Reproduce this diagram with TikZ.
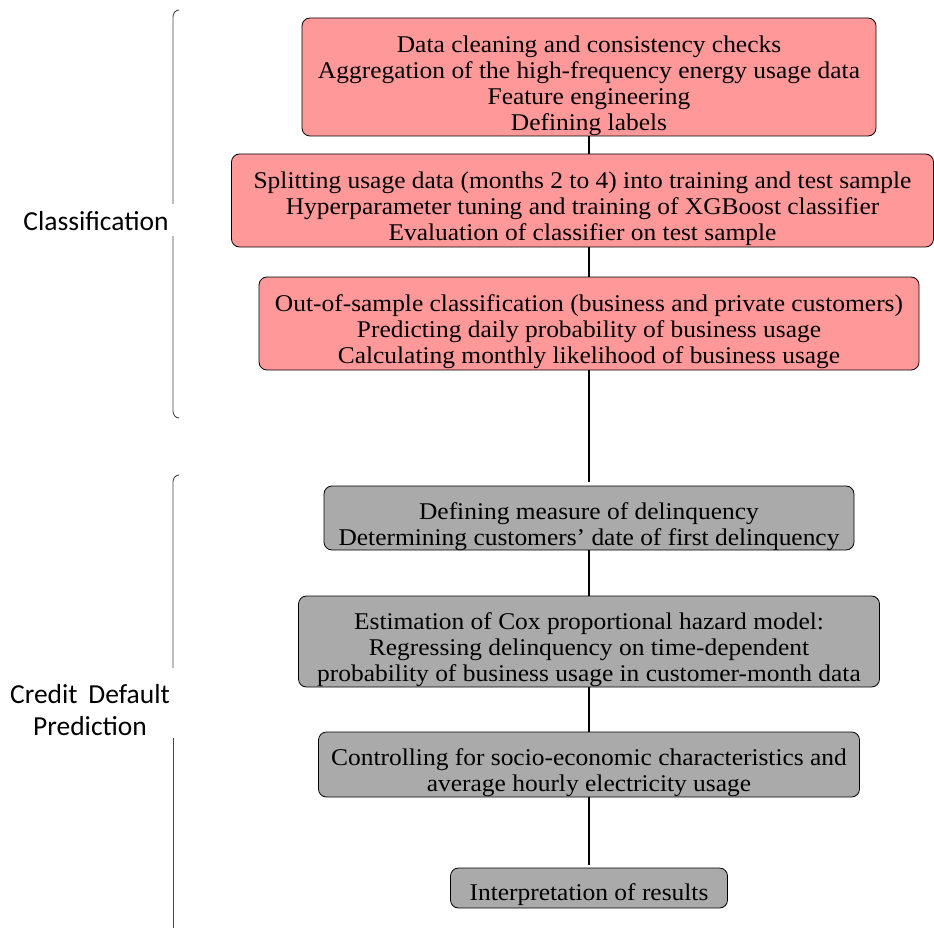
\documentclass[tikz,border=0pt]{standalone}
\usepackage{fontspec}
\setmainfont[FakeStretch=1.06]{Liberation Serif}
\newfontfamily\lblfont{Carlito}
\definecolor{pinkfill}{RGB}{255,153,153}
\definecolor{grayfill}{RGB}{170,170,170}
\definecolor{brk}{RGB}{70,70,70}
\begin{document}
\begin{tikzpicture}[x=1pt,y=-1pt,
  box/.style={draw=black,line width=0.8pt,rounded corners=8pt,inner sep=0pt},
  pinkbox/.style={box,fill=pinkfill},
  graybox/.style={box,fill=grayfill},
  txt/.style={align=center,font=\fontsize{24}{26}\selectfont,inner sep=0pt},
  lbl/.style={font=\lblfont\fontsize{27.5}{32}\selectfont,align=center,inner sep=0pt},
  conn/.style={line width=1.4pt,black},
  bracket/.style={line width=0.9pt,brk}]
\useasboundingbox (0,0) rectangle (934,928);
\node[pinkbox,minimum width=574pt,minimum height=118pt] (b1) at (589,77) {};
\node[pinkbox,minimum width=702pt,minimum height=93pt] (b2) at (582.5,200.5) {};
\node[pinkbox,minimum width=660pt,minimum height=93pt] (b3) at (589,323.5) {};
\node[graybox,minimum width=530pt,minimum height=64pt] (b4) at (589,518) {};
\node[graybox,minimum width=581pt,minimum height=91pt] (b5) at (589,641.5) {};
\node[graybox,minimum width=541pt,minimum height=65pt] (b6) at (589,764.5) {};
\node[graybox,minimum width=277pt,minimum height=40pt] (b7) at (589,888) {};
\node[txt] (b1t) at ([yshift=-8.5pt]b1.center)
 {Data cleaning and consistency checks\\Aggregation of the high-frequency energy usage data\\Feature engineering\\Defining labels};
\node[txt] (b2t) at ([yshift=-8.5pt]b2.center)
 {Splitting usage data (months 2 to 4) into training and test sample\\Hyperparameter tuning and training of XGBoost classifier\\Evaluation of classifier on test sample};
\node[txt] (b3t) at ([yshift=-8.5pt]b3.center)
 {Out-of-sample classification (business and private customers)\\Predicting daily probability of business usage\\Calculating monthly likelihood of business usage};
\node[txt] (b4t) at ([yshift=-8.5pt]b4.center)
 {Defining measure of delinquency\\Determining customers' date of first delinquency};
\node[txt] (b5t) at ([yshift=-8.5pt]b5.center)
 {Estimation of Cox proportional hazard model:\\Regressing delinquency on time-dependent\\probability of business usage in customer-month data};
\node[txt] (b6t) at ([yshift=-8.5pt]b6.center)
 {Controlling for socio-economic characteristics and\\average hourly electricity usage};
\node[txt] (b7t) at ([yshift=-6.5pt]b7.center) {Interpretation of results};
\draw[conn] (b1.south) -- (b1.south |- b2.north);
\draw[conn] (b3.north |- b2.south) -- (b3.north);
\draw[conn] (b3.south) -- ([yshift=4pt]b4.north);
\draw[conn] (b4.south) -- (b5.north);
\draw[conn] (b5.south) -- (b6.north);
\draw[conn] (b6.south) -- ([yshift=3pt]b7.north);
\node[lbl] (l1) at (96,221) {Classification};
\node[lbl] (l2) at (90,710) {Credit\, Default\\Prediction};
\coordinate (t1) at (179,10);
\coordinate (g1a) at (173,204);
\coordinate (g1b) at (173,236);
\coordinate (e1) at (179,418);
\coordinate (t2) at (179,475);
\coordinate (g2a) at (173,668);
\coordinate (g2b) at (173,738);
\coordinate (e2) at (173,928);
\draw[bracket] (t1) to[out=180,in=90] ([yshift=-7pt]t1-|g1a) -- (g1a);
\draw[bracket] (g1b) -- ([yshift=7pt]e1-|g1b) to[out=-90,in=180] (e1);
\draw[bracket] (t2) to[out=180,in=90] ([yshift=-7pt]t2-|g2a) -- (g2a);
\draw[bracket] (g2b) -- (e2);
\end{tikzpicture}
\end{document}
